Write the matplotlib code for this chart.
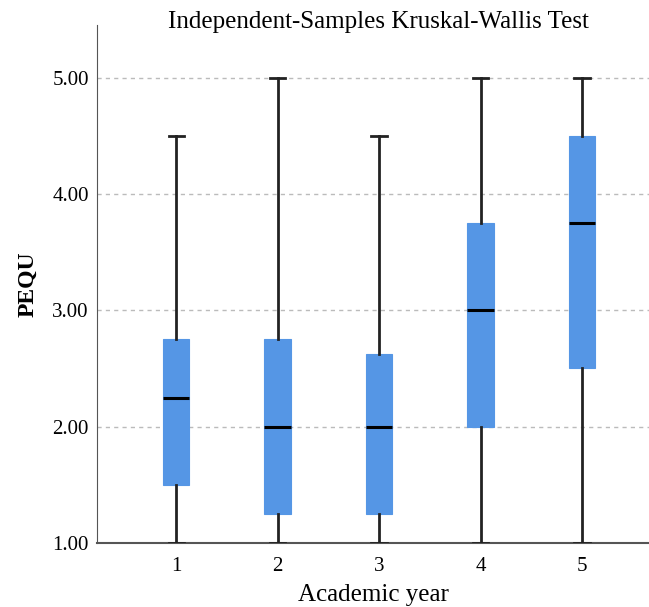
import matplotlib
matplotlib.use("Agg")
import matplotlib.pyplot as plt

years = ["1", "2", "3", "4", "5"]
whis_lo = [1.0, 1.0, 1.0, 1.0, 1.0]
q1 = [1.5, 1.25, 1.25, 2.0, 2.5]
med = [2.25, 2.0, 2.0, 3.0, 3.75]
q3 = [2.75, 2.75, 2.625, 3.75, 4.5]
whis_hi = [4.5, 5.0, 4.5, 5.0, 5.0]
yticks = [1.0, 2.0, 3.0, 4.0, 5.0]

plt.rcParams['font.family'] = ['Liberation Serif', 'DejaVu Serif']

fig = plt.figure(figsize=(6.49, 6.07), dpi=100)
ax = fig.add_axes([0.1495, 0.1054, 0.8505, 0.853])

stats = []
for i, y in enumerate(years):
    stats.append({'label': y, 'whislo': whis_lo[i], 'q1': q1[i], 'med': med[i],
                  'q3': q3[i], 'whishi': whis_hi[i], 'fliers': []})

ax.bxp(stats, positions=range(1, 6), widths=0.26, patch_artist=True,
       showfliers=False,
       boxprops=dict(facecolor='#5596e5', edgecolor='#5596e5', linewidth=0.8),
       medianprops=dict(color='black', linewidth=2.2),
       whiskerprops=dict(color='#222222', linewidth=2),
       capprops=dict(color='#222222', linewidth=2),
       capwidths=0.15, zorder=3)

ax.set_xlim(0.22, 5.66)
ax.set_ylim(1.0, 5.45)
ax.set_yticks(yticks)
ax.set_yticklabels([f"{v:.2f}" for v in yticks])
ax.yaxis.grid(True, linestyle=(0, (3, 3)), color='#bbbbbb', linewidth=1)
ax.set_axisbelow(True)
for s in ['top', 'right']:
    ax.spines[s].set_visible(False)
ax.spines['left'].set_color('#555555')
ax.spines['bottom'].set_color('#555555')
ax.spines['bottom'].set_linewidth(1.5)
ax.tick_params(length=0, labelsize=15, pad=6)
ax.tick_params(axis='x', pad=10)

ax.set_xlabel("Academic year", fontsize=18, labelpad=6)
ax.set_ylabel("PEQU", fontsize=17, fontweight='bold', labelpad=10)
fig.text(0.583, 0.963, "Independent-Samples Kruskal-Wallis Test", ha='center',
         va='center', fontsize=18)

fig.savefig("out.png", dpi=100)
